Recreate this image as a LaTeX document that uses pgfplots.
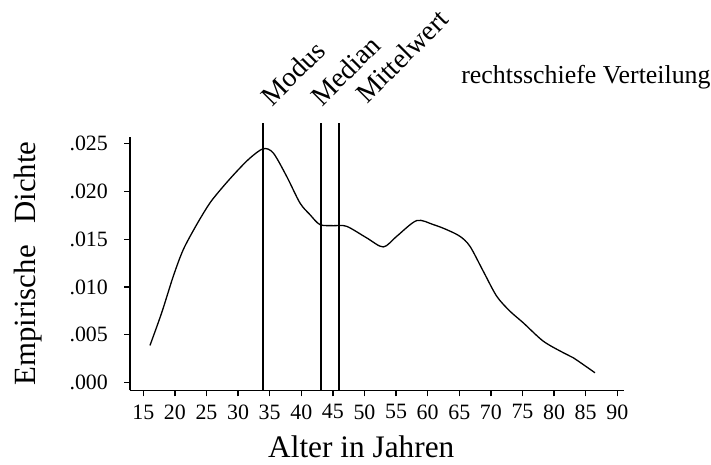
\documentclass[border=0pt]{standalone}
\usepackage{pgfplots}
\pgfplotsset{compat=1.18}
\usepackage{fontspec}
\setmainfont{Liberation Serif}
\begin{document}
\begin{tikzpicture}
\begin{axis}[
  scale only axis,
  width=495bp, height=254bp,
  xmin=12.9, xmax=91.1,
  ymin=-0.000837, ymax=0.02573,
  axis lines=left,
  axis line style={-, line width=1.4bp},
  clip=false,
  xtick={15,20,...,90},
  ytick={0,0.005,0.01,0.015,0.02,0.025},
  yticklabels={.000,.005,.010,.015,.020,.025},
  scaled y ticks=false,
  tick align=outside,
  major tick length=6bp,
  tick style={line width=1.4bp, black},
  /pgf/number format/assume math mode=true,
  ticklabel style={font=\fontsize{22}{24}\selectfont},
  yticklabel style={anchor=east, inner sep=0pt, xshift=-16bp},
  xticklabel style={anchor=north, inner sep=0pt, yshift=-8bp},
  xlabel={Alter in Jahren},
  xlabel style={at={(axis description cs:0.468,-0.264)}, anchor=base, font=\fontsize{31.5}{33}\selectfont},
  ylabel={Empirische\hspace{0.7em}Dichte},
  ylabel style={at={(axis description cs:-0.192,0.5)}, anchor=base, rotate=0, font=\fontsize{31}{33}\selectfont},
]
\addplot[black, line width=1.3bp, smooth, tension=0.5] coordinates {
(16.06,0.00387) (17.91,0.00729) (19.75,0.01112) (21.33,0.01391) (23.45,0.01653)
(25.55,0.01880) (27.66,0.02053) (29.78,0.02210) (31.88,0.02350) (33.99,0.02448)
(35.57,0.02403) (37.69,0.02158) (39.79,0.01880) (41.38,0.01757) (42.96,0.01653)
(45.06,0.01642) (47.18,0.01635) (50.35,0.01514) (52.97,0.01419) (55.09,0.01530)
(58.26,0.01695) (60.89,0.01653) (63.01,0.01600) (65.11,0.01530) (66.69,0.01426)
(68.80,0.01164) (70.92,0.00903) (73.02,0.00746) (75.13,0.00624) (78.29,0.00432)
(81.46,0.00311) (83.04,0.00258) (86.47,0.00101)
};
\addplot[black, line width=1.5bp] coordinates {(33.92,-0.000837) (33.92,0.0272)};
\addplot[black, line width=1.5bp] coordinates {(43.1,-0.000837) (43.1,0.0272)};
\addplot[black, line width=1.5bp] coordinates {(46.0,-0.000837) (46.0,0.0272)};
\node[rotate=45, anchor=base west, inner sep=0pt, font=\fontsize{28}{30}\selectfont] at (axis cs:35.4,0.02880) {Modus};
\node[rotate=45, anchor=base west, inner sep=0pt, font=\fontsize{28}{30}\selectfont] at (axis cs:43.3,0.02880) {Median};
\node[rotate=45, anchor=base west, inner sep=0pt, font=\fontsize{28}{30}\selectfont] at (axis cs:50.4,0.02910) {Mittelwert};
\node[anchor=base west, inner sep=0pt, font=\fontsize{26}{28}\selectfont] at (axis cs:65.3,0.03128) {rechtsschiefe Verteilung};
\coordinate (bl) at (axis cs:-7.67,-0.00858);
\coordinate (tr) at (axis cs:104.83,0.04006);
\end{axis}
\pgfresetboundingbox
\path[use as bounding box] (bl) rectangle (tr);
\end{tikzpicture}
\end{document}
